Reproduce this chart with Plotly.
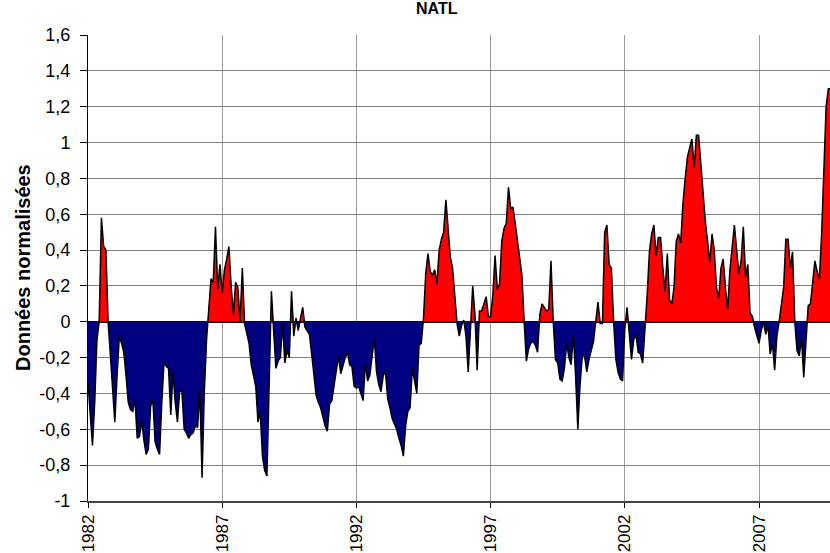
import plotly.graph_objects as go

# Monthly normalised NATL index, Jan 1982 .. Sep 2009
start_year = 1982
v1982 = [-0.34, -0.55, -0.69, -0.45, -0.10, 0.00, 0.58, 0.42, 0.40, 0.00, -0.18, -0.37]
v1983 = [-0.56, -0.30, -0.08, -0.12, -0.17, -0.30, -0.45, -0.49, -0.50, -0.43, -0.65, -0.64]
v1984 = [-0.55, -0.66, -0.74, -0.71, -0.47, -0.43, -0.67, -0.71, -0.74, -0.45, -0.22, -0.25]
v1985 = [-0.26, -0.52, -0.28, -0.45, -0.56, -0.38, -0.39, -0.60, -0.62, -0.65, -0.63, -0.62]
v1986 = [-0.58, -0.59, -0.38, -0.87, -0.39, -0.10, 0.10, 0.24, 0.22, 0.53, 0.18, 0.32]
v1987 = [0.16, 0.29, 0.35, 0.42, 0.20, 0.04, 0.22, 0.19, 0.00, 0.30, -0.01, -0.06]
v1988 = [-0.12, -0.24, -0.30, -0.36, -0.56, -0.50, -0.75, -0.83, -0.86, -0.30, 0.17, -0.05]
v1989 = [-0.26, -0.22, -0.20, -0.01, -0.23, -0.16, -0.20, 0.17, -0.08, 0.02, -0.05, 0.02]
v1990 = [0.08, -0.03, -0.05, -0.07, -0.18, -0.30, -0.41, -0.45, -0.48, -0.53, -0.58, -0.61]
v1991 = [-0.46, -0.44, -0.35, -0.26, -0.19, -0.29, -0.24, -0.20, -0.17, -0.24, -0.25, -0.36]
v1992 = [-0.37, -0.36, -0.40, -0.44, -0.23, -0.33, -0.30, -0.20, -0.09, -0.28, -0.35, -0.39]
v1993 = [-0.30, -0.28, -0.43, -0.48, -0.54, -0.57, -0.60, -0.65, -0.69, -0.75, -0.58, -0.50]
v1994 = [-0.48, -0.26, -0.33, -0.40, -0.13, -0.12, 0.02, 0.27, 0.38, 0.28, 0.26, 0.29]
v1995 = [0.21, 0.40, 0.46, 0.50, 0.68, 0.52, 0.36, 0.30, 0.14, -0.01, -0.08, -0.02]
v1996 = [0.01, -0.08, -0.28, -0.07, 0.20, 0.04, -0.27, 0.06, 0.06, 0.10, 0.14, 0.03]
v1997 = [0.03, 0.15, 0.37, 0.18, 0.21, 0.45, 0.52, 0.55, 0.75, 0.63, 0.64, 0.55]
v1998 = [0.45, 0.36, 0.26, 0.00, -0.22, -0.15, -0.12, -0.11, -0.13, -0.17, 0.04, 0.10]
v1999 = [0.08, 0.06, 0.07, 0.34, 0.00, -0.21, -0.23, -0.32, -0.33, -0.26, -0.12, -0.20]
v2000 = [-0.24, -0.07, -0.30, -0.60, -0.35, -0.19, -0.19, -0.28, -0.21, -0.15, -0.11, 0.00]
v2001 = [0.11, -0.01, -0.01, 0.50, 0.54, 0.32, 0.30, 0.00, -0.21, -0.28, -0.32, -0.33]
v2002 = [-0.04, 0.08, -0.06, -0.21, -0.10, -0.07, -0.17, -0.18, -0.23, -0.05, 0.15, 0.39]
v2003 = [0.49, 0.54, 0.37, 0.47, 0.47, 0.30, 0.17, 0.38, 0.12, 0.10, 0.19, 0.45]
v2004 = [0.49, 0.44, 0.66, 0.80, 0.92, 0.97, 1.02, 0.86, 1.04, 1.04, 0.88, 0.71]
v2005 = [0.56, 0.45, 0.33, 0.49, 0.40, 0.19, 0.13, 0.30, 0.35, 0.19, 0.07, 0.29]
v2006 = [0.42, 0.54, 0.40, 0.27, 0.34, 0.53, 0.25, 0.32, 0.05, 0.03, -0.03, -0.07]
v2007 = [-0.12, -0.05, 0.00, -0.07, -0.02, -0.18, -0.12, -0.27, -0.08, 0.00, 0.10, 0.19]
v2008 = [0.46, 0.46, 0.30, 0.39, 0.00, -0.16, -0.19, -0.09, -0.31, -0.09, 0.09, 0.10]
v2009 = [0.21, 0.34, 0.28, 0.24, 0.49, 0.80, 1.20, 1.30, 1.30]

tick_years = [1982, 1987, 1992, 1997, 2002, 2007]
tick_year_labels = ["1982", "1987", "1992", "1997", "2002", "2007"]
y_tick_values = [-1, -0.8, -0.6, -0.4, -0.2, 0, 0.2, 0.4, 0.6, 0.8, 1, 1.2, 1.4, 1.6]
y_tick_labels = ["-1", "-0,8", "-0,6", "-0,4", "-0,2", "0", "0,2", "0,4", "0,6", "0,8", "1", "1,2", "1,4", "1,6"]

values = (v1982 + v1983 + v1984 + v1985 + v1986 + v1987 + v1988 + v1989 + v1990 +
          v1991 + v1992 + v1993 + v1994 + v1995 + v1996 + v1997 + v1998 + v1999 +
          v2000 + v2001 + v2002 + v2003 + v2004 + v2005 + v2006 + v2007 + v2008 + v2009)
xs = [start_year + i / 12.0 for i in range(len(values))]

# insert zero crossings so positive / negative fills meet exactly on the axis
dx, dv = [], []
for i, (x, v) in enumerate(zip(xs, values)):
    if i > 0:
        x0, v0 = xs[i - 1], values[i - 1]
        if v0 * v < 0:
            dx.append(x0 + (x - x0) * v0 / (v0 - v))
            dv.append(0.0)
    dx.append(x)
    dv.append(v)
pos = [max(v, 0.0) for v in dv]
neg = [min(v, 0.0) for v in dv]

fig = go.Figure()
fig.add_trace(go.Scatter(x=dx, y=neg, mode="lines", line=dict(width=0, color="#000080"),
                         fill="tozeroy", fillcolor="#000080", hoverinfo="skip", showlegend=False))
fig.add_trace(go.Scatter(x=dx, y=pos, mode="lines", line=dict(width=0, color="#FF0000"),
                         fill="tozeroy", fillcolor="#FF0000", hoverinfo="skip", showlegend=False))
fig.add_trace(go.Scatter(x=xs, y=values, mode="lines", line=dict(width=1.5, color="black"),
                         showlegend=False))

font_family = "Liberation Sans, Arial, sans-serif"
fig.update_layout(
    width=830, height=553,
    margin=dict(l=88, r=0, t=35, b=52),
    paper_bgcolor="white", plot_bgcolor="white",
    font=dict(family=font_family, size=18, color="black"),
    title=dict(text="<b>NATL</b>", x=0.47, xref="paper", xanchor="center",
               y=1 - 3 / 553, yref="container", yanchor="top",
               font=dict(size=16, family=font_family, color="black")),
    xaxis=dict(range=[1982, 1982 + 742 / 26.84], tickvals=tick_years, ticktext=tick_year_labels,
               tickangle=-90, showgrid=True, gridcolor="#999999", gridwidth=1,
               showline=True, linecolor="#444444", linewidth=1.5, ticks="outside",
               ticklen=5, tickcolor="black", zeroline=False,
               tickfont=dict(size=17, family=font_family)),
    yaxis=dict(range=[-1, 1.6], tickvals=y_tick_values, ticktext=y_tick_labels,
               showgrid=True, gridcolor="#808080", gridwidth=1,
               showline=True, linecolor="black", linewidth=1, ticks="outside",
               ticklen=7, tickcolor="black", zeroline=True, zerolinecolor="black",
               zerolinewidth=1.5, ticklabelstandoff=6,
               tickfont=dict(size=18, family=font_family)),
    annotations=[dict(text="<b>Données normalisées</b>", x=(23 - 88) / 742, y=0.5,
                      xref="paper", yref="paper", xanchor="center", yanchor="middle",
                      textangle=-90, showarrow=False,
                      font=dict(size=20, family=font_family, color="black"))],
)

# remove the browser's default 8px page margin so the figure fills the window exactly
fig.write_html("out.html", config={"displayModeBar": False},
               post_script="document.body.style.margin='0';document.body.style.overflow='hidden';")
